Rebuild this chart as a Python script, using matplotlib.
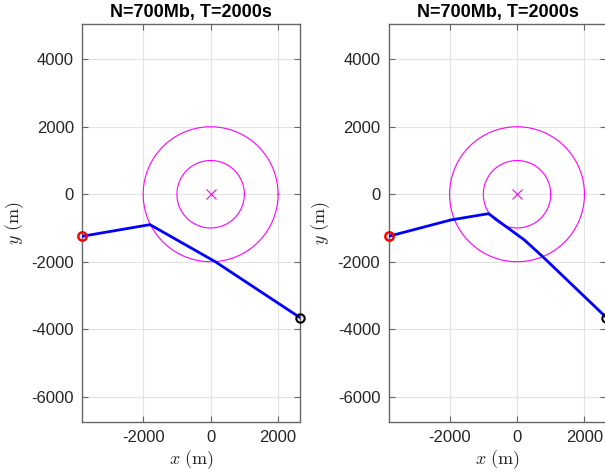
import numpy as np
import matplotlib.pyplot as plt

plt.rcParams['font.family'] = ['Liberation Sans', 'DejaVu Sans']
plt.rcParams['mathtext.fontset'] = 'cm'
plt.rcParams['axes.unicode_minus'] = False

# path data (m)
left_x = [-3800, -1799, 140, 2650]
left_y = [-1244, -900, -2000, -3655]
right_x = [-3800, -1961, -844, -526, 217, 761, 2650]
right_y = [-1244, -761, -575, -812, -1354, -1849, -3655]
ring_radii = [1000, 2000]
title = "N=700Mb, T=2000s"
xticks = [-2000, 0, 2000]
yticks = [-6000, -4000, -2000, 0, 2000, 4000]
xlim = (-3805, 2650)
ylim = (-6740, 5045)

fig = plt.figure(figsize=(6.05, 4.73), dpi=100)
ax1 = fig.add_axes([82.3 / 605, 51.3 / 473, 217.7 / 605, 397.7 / 473])
ax2 = fig.add_axes([388.7 / 605, 51.3 / 473, 217.7 / 605, 397.7 / 473])

edge = '#262626'
spine = '#666666'

def draw(ax, px, py):
    t = np.linspace(0, 2 * np.pi, 400)
    for r in ring_radii:
        ax.plot(r * np.cos(t), r * np.sin(t), color='#ff00ff', lw=0.8, zorder=2)
    ax.plot([0], [0], marker='x', color='#ff00ff', ms=7, mew=0.8, ls='none', zorder=3)
    ax.plot(px, py, color='#0000ff', lw=2.0, zorder=4)
    ax.plot(px[0], py[0], marker='o', ms=6, mfc='none', mec='red', mew=1.8,
            ls='none', zorder=5, clip_on=False)
    ax.plot(px[-1], py[-1], marker='o', ms=6, mfc='none', mec='black', mew=1.5,
            ls='none', zorder=5, clip_on=False)

    ax.set_xlim(*xlim)
    ax.set_ylim(*ylim)
    ax.set_xticks(xticks)
    ax.set_yticks(yticks)
    ax.grid(True, color='#e3e3e3', lw=0.8)
    ax.set_axisbelow(True)
    ax.tick_params(direction='in', top=True, right=True, length=4,
                   labelsize=12, colors=spine, labelcolor=edge, pad=6)
    for s in ax.spines.values():
        s.set_color(spine)
        s.set_linewidth(1.0)
    ax.set_title(title, fontsize=13, fontweight='bold', color='black', pad=5)
    ax.set_xlabel(r'$x\ (\mathrm{m})$', fontsize=13, color=edge, labelpad=2)
    ax.set_ylabel(r'$y\ (\mathrm{m})$', fontsize=13, color=edge, labelpad=4)

draw(ax1, left_x, left_y)
draw(ax2, right_x, right_y)

fig.savefig('out.png', dpi=100)
